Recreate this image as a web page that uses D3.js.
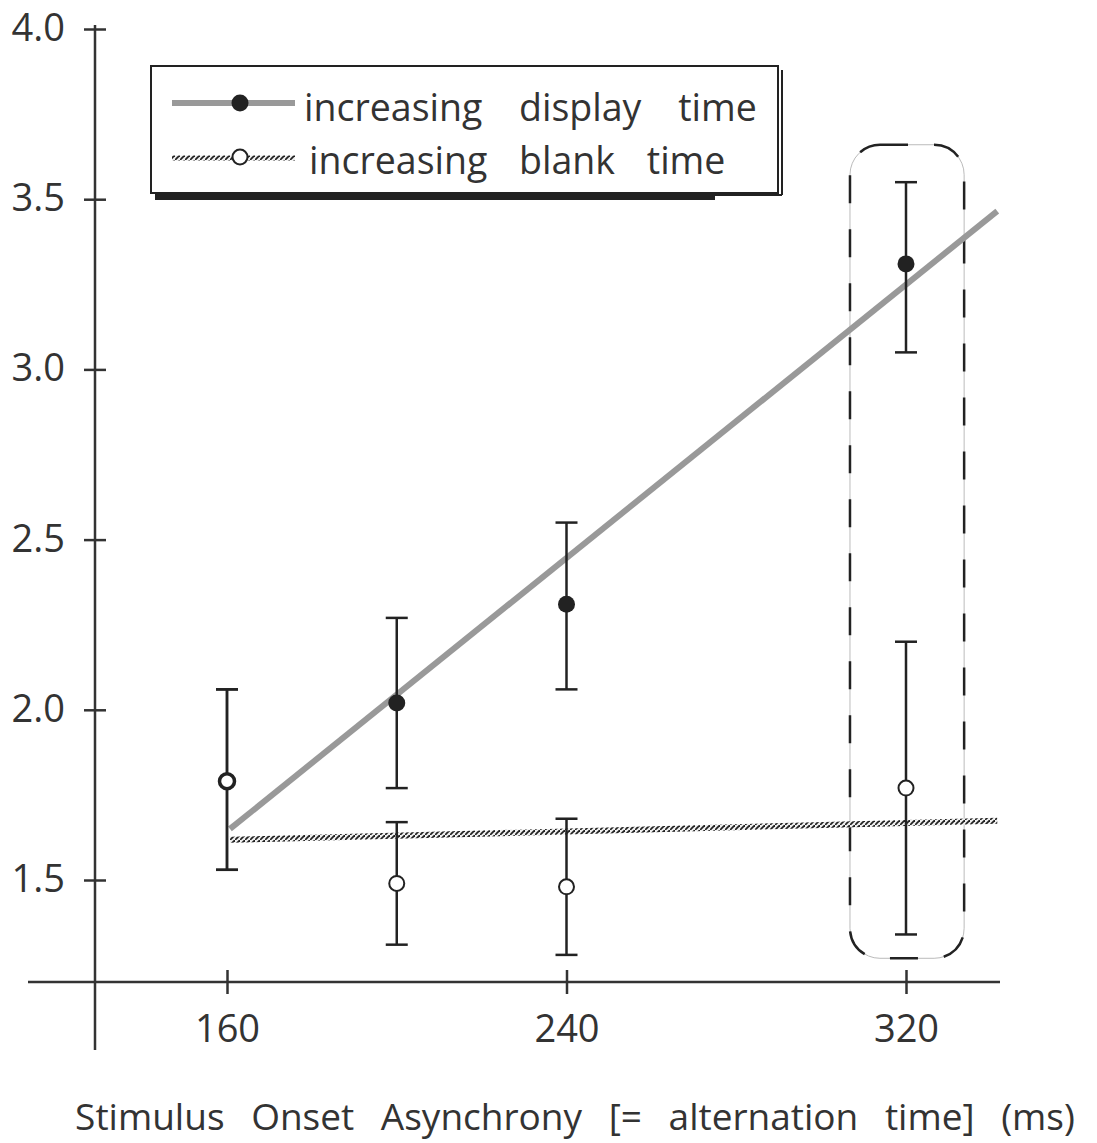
<!DOCTYPE html>
<html>
<head>
<meta charset="utf-8">
<script src="https://cdn.jsdelivr.net/npm/d3@7"></script>
<style>
  body { margin: 0; background: #fff; }
  text { font-family: "Open Sans", "DejaVu Sans", sans-serif; fill: #333; }
</style>
</head>
<body>
<div id="vis"></div>
<script>
// Data
var soa = [160, 200, 240, 320];
var displayMean = [1.79, 2.02, 2.31, 3.31];
var displayLo   = [1.53, 1.77, 2.06, 3.05];
var displayHi   = [2.06, 2.27, 2.55, 3.55];
var blankMean = [1.79, 1.49, 1.48, 1.77];
var blankLo   = [1.53, 1.31, 1.28, 1.34];
var blankHi   = [2.06, 1.67, 1.68, 2.20];

// regression lines (ends)
var fitX = [160.7, 341.5];
var displayFit = [1.65, 3.465];
var blankFit = [1.618, 1.674];

var yTicks = [1.5, 2.0, 2.5, 3.0, 3.5, 4.0];
var xTicks = [160, 240, 320];
var legendLabels = ["increasing display time", "increasing blank time"];
var xTitle = "Stimulus Onset Asynchrony [= alternation time] (ms)";

// highlighted condition (320 ms)
var boxX = [306.8, 333.7];
var boxY = [1.27, 3.66];

var width = 1097, height = 1143;

var svg = d3.select("#vis").append("svg")
	.attr("width", width)
	.attr("height", height);

var x = d3.scaleLinear().domain([160, 320]).range([227, 906]);
var y = d3.scaleLinear().domain([1.5, 4.0]).range([880, 29]);

var defs = svg.append("defs");
var hatch = defs.append("pattern")
	.attr("id", "hatch")
	.attr("patternUnits", "userSpaceOnUse")
	.attr("width", 5).attr("height", 5);
hatch.append("rect").attr("width", 5).attr("height", 5).attr("fill", "#eee");
hatch.append("path")
	.attr("d", "M-1,6 L6,-1")
	.attr("stroke", "#222").attr("stroke-width", 1.8);

// axes lines
svg.append("line")
	.attr("x1", 95).attr("x2", 95).attr("y1", 25).attr("y2", 1050)
	.attr("stroke", "#333").attr("stroke-width", 2.5);
svg.append("line")
	.attr("x1", 28).attr("x2", 1000).attr("y1", 982).attr("y2", 982)
	.attr("stroke", "#333").attr("stroke-width", 2.5);

var yAxis = svg.append("g")
	.attr("transform", "translate(95,0)")
	.call(d3.axisLeft(y).tickValues(yTicks).tickFormat(d3.format(".1f")).tickSize(11).tickPadding(19));
yAxis.select(".domain").remove();
yAxis.selectAll(".tick line").attr("x1", -11).attr("x2", 11).attr("stroke", "#333").attr("stroke-width", 2.5);
yAxis.selectAll(".tick text").style("font-size", "38px").attr("fill", "#333").attr("dy", "0.3em");

var xAxis = svg.append("g")
	.attr("transform", "translate(0,982)")
	.call(d3.axisBottom(x).tickValues(xTicks).tickSize(12).tickPadding(21));
xAxis.select(".domain").remove();
xAxis.selectAll(".tick line").attr("y1", -12).attr("y2", 12).attr("stroke", "#333").attr("stroke-width", 2.5);
xAxis.selectAll(".tick text").style("font-size", "38px").attr("fill", "#333");

svg.append("text")
	.attr("x", 575).attr("y", 1130)
	.attr("text-anchor", "middle")
	.style("font-size", "37px")
	.style("word-spacing", "17px")
	.text(xTitle);

// highlight box
var bx0 = x(boxX[0]), bx1 = x(boxX[1]), by0 = y(boxY[1]), by1 = y(boxY[0]);
svg.append("rect")
	.attr("x", bx0).attr("y", by0).attr("width", bx1 - bx0).attr("height", by1 - by0)
	.attr("rx", 30).attr("ry", 30)
	.attr("fill", "none").attr("stroke", "#bbb").attr("stroke-width", 1);
svg.append("rect")
	.attr("x", bx0).attr("y", by0).attr("width", bx1 - bx0).attr("height", by1 - by0)
	.attr("rx", 30).attr("ry", 30)
	.attr("fill", "none").attr("stroke", "#222").attr("stroke-width", 2.5)
	.attr("stroke-dasharray", "28,26");

// fit lines
svg.append("line")
	.attr("x1", x(fitX[0])).attr("x2", x(fitX[1]))
	.attr("y1", y(blankFit[0])).attr("y2", y(blankFit[1]))
	.attr("stroke", "url(#hatch)").attr("stroke-width", 6);
svg.append("line")
	.attr("x1", x(fitX[0])).attr("x2", x(fitX[1]))
	.attr("y1", y(displayFit[0])).attr("y2", y(displayFit[1]))
	.attr("stroke", "#999").attr("stroke-width", 6);

// error bars
function errorBars(lo, hi) {
	var g = svg.append("g").attr("stroke", "#222").attr("stroke-width", 2.5);
	soa.forEach(function(s, i) {
		g.append("line").attr("x1", x(s)).attr("x2", x(s)).attr("y1", y(lo[i])).attr("y2", y(hi[i]));
		g.append("line").attr("x1", x(s) - 11).attr("x2", x(s) + 11).attr("y1", y(lo[i])).attr("y2", y(lo[i]));
		g.append("line").attr("x1", x(s) - 11).attr("x2", x(s) + 11).attr("y1", y(hi[i])).attr("y2", y(hi[i]));
	});
}
errorBars(displayLo, displayHi);
errorBars(blankLo, blankHi);

svg.selectAll(".dpt").data(soa).enter().append("circle")
	.attr("class", "dpt")
	.attr("cx", function(d) { return x(d); })
	.attr("cy", function(d, i) { return y(displayMean[i]); })
	.attr("r", 8.5).attr("fill", "#222");
svg.selectAll(".bpt").data(soa).enter().append("circle")
	.attr("class", "bpt")
	.attr("cx", function(d) { return x(d); })
	.attr("cy", function(d, i) { return y(blankMean[i]); })
	.attr("r", 7.5).attr("fill", "#fff")
	.attr("stroke", "#222")
	.attr("stroke-width", function(d, i) { return blankMean[i] === displayMean[i] ? 3.5 : 2; });

// legend
var lg = svg.append("g");
lg.append("rect").attr("x", 155).attr("y", 70).attr("width", 560).attr("height", 130).attr("fill", "#222");
lg.append("line").attr("x1", 782).attr("x2", 782).attr("y1", 70).attr("y2", 195).attr("stroke", "#222").attr("stroke-width", 2);
lg.append("line").attr("x1", 715).attr("x2", 782).attr("y1", 195).attr("y2", 195).attr("stroke", "#222").attr("stroke-width", 2);
lg.append("rect").attr("x", 151).attr("y", 66).attr("width", 627).attr("height", 127)
	.attr("fill", "#fff").attr("stroke", "#222").attr("stroke-width", 2);

lg.append("line").attr("x1", 172).attr("x2", 295).attr("y1", 103).attr("y2", 103)
	.attr("stroke", "#999").attr("stroke-width", 6);
lg.append("circle").attr("cx", 240).attr("cy", 103).attr("r", 8.5).attr("fill", "#222");
lg.append("line").attr("x1", 172).attr("x2", 295).attr("y1", 158).attr("y2", 158)
	.attr("stroke", "url(#hatch)").attr("stroke-width", 5);
lg.append("circle").attr("cx", 240).attr("cy", 157).attr("r", 7.5)
	.attr("fill", "#fff").attr("stroke", "#222").attr("stroke-width", 2);

lg.append("text").attr("x", 304).attr("y", 121)
	.style("font-size", "37.5px").style("word-spacing", "27px")
	.text(legendLabels[0]);
lg.append("text").attr("x", 309).attr("y", 174)
	.style("font-size", "37.5px").style("word-spacing", "22px")
	.text(legendLabels[1]);
</script>
</body>
</html>
